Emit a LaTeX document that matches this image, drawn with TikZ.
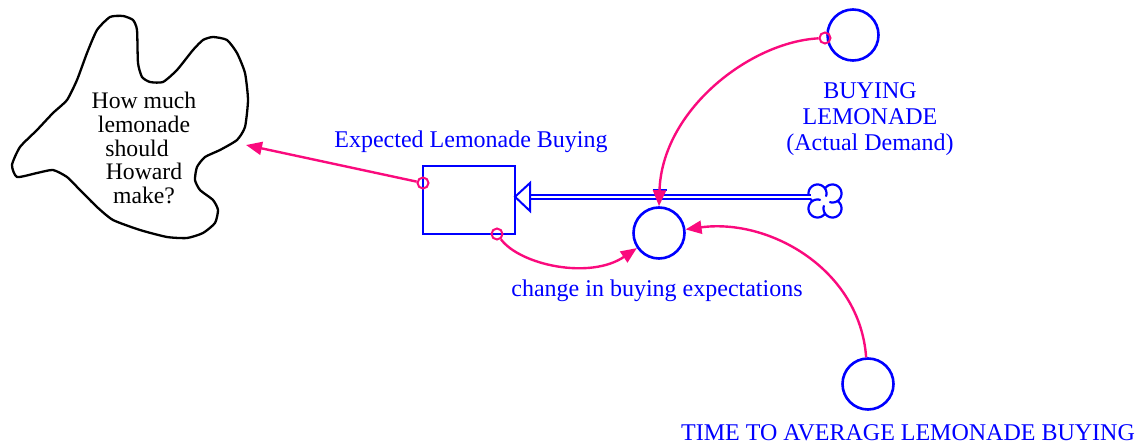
\documentclass[tikz,border=0pt]{standalone}
\usepackage{fontspec}
\setmainfont{Liberation Serif}
\usetikzlibrary{arrows.meta,calc}
\definecolor{vblue}{RGB}{0,0,255}
\definecolor{vpink}{RGB}{250,10,125}
\begin{document}
\begin{tikzpicture}[x=1pt,y=-1pt,
  lbl/.style={font=\fontsize{24}{26}\selectfont, text=vblue, inner sep=0pt},
  aux/.style={circle, draw=vblue, line width=2.6pt, minimum size=51pt, inner sep=0pt},
  lvl/.style={rectangle, draw=vblue, line width=2.6pt, minimum width=92pt, minimum height=68pt, inner sep=0pt},
  link/.style={draw=vpink, line width=2.4pt, -{Triangle[length=16pt,width=13pt]}},
  tail/.style={circle, draw=vpink, line width=2pt, minimum size=11pt, inner sep=0pt},
  pipe/.style={draw=vblue, line width=1.6pt, double=white, double distance=2.4pt},
  lobe/.style={draw=vblue, line width=2.2pt, line cap=round},
  think/.style={draw=black, line width=2.3pt, line join=round},
]
\useasboundingbox (0,0) rectangle (1143,446);

% thought cloud
\draw[think] plot[smooth cycle, tension=0.35] coordinates {
(110,17) (123,16) (133,20) (137,30) (138,63) (142,77) (150,82) (163,82) (177,70) (193,50) (203,40) (213,37) (227,40) (237,53) (245,73) (248,100) (245,127) (237,140) (220,150) (205,157) (197,167) (195,180) (200,190) (213,200) (218,210) (215,223) (203,233) (187,238) (167,237) (140,230) (113,220) (97,207) (80,190) (67,177) (53,170) (37,173) (17,177) (12,165) (20,147) (37,130) (53,113) (67,100) (77,80) (87,53) (97,30)};
\node[font=\fontsize{23.7}{23.7}\selectfont, align=center, inner sep=0pt] (question) at (144,148) {How much\\lemonade\\should\rule{14pt}{0pt}\\Howard\\make?};
\coordinate (thinktip) at (246,145);

% stock
\node[lvl] (stock) at (469,200) {};
\node[lbl] (stocklbl) at (471,142) {Expected Lemonade Buying};

% source cloud
\node[minimum size=34pt, inner sep=0pt] (src) at (825,201) {};
\draw[lobe] plot[domain=123.7:376, samples=30] ({817.5+9*cos(\x)},{193.5+9*sin(\x)});
\draw[lobe] plot[domain=213.7:466, samples=30] ({832.5+9*cos(\x)},{193.5+9*sin(\x)});
\draw[lobe] plot[domain=303.7:556, samples=30] ({832.5+9*cos(\x)},{208.5+9*sin(\x)});
\draw[lobe] plot[domain=33.7:286, samples=30] ({817.5+9*cos(\x)},{208.5+9*sin(\x)});

% flow
\coordinate (fin) at (811,196.8);
\coordinate (fbase) at (530,196.8);
\coordinate (ftip) at (515,196.8);
\draw[pipe] (fin) -- (fbase);
\draw[draw=vblue, fill=white, line width=2pt, line join=miter] (ftip) -- (530,183) -- (530,211) -- cycle;
\draw[vblue, line width=2.2pt] (653,190) -- (667,190) (660,190) -- (660,194);

% auxiliaries
\node[aux] (rate) at (659,233) {};
\node[lbl] (ratelbl) at (657,291) {change in buying expectations};
\node[aux] (buy) at (853,35) {};
\node[lbl, align=center] (buylbl) at (870,119) {BUYING\\LEMONADE\\(Actual Demand)};
\node[aux] (time) at (868,384) {};
\node[lbl] (timelbl) at (908,433) {TIME TO AVERAGE LEMONADE BUYING};

% tails
\node[tail] (t1) at (423,183) {};
\node[tail] (t2) at (825,38) {};
\node[tail] (t3) at (497,234) {};

% connectors
\draw[link] (t1) -- (thinktip);
\draw[link] (t2) .. controls (750,42) and (662,110) .. (rate.north);
\draw[link] (t3) .. controls (520,265) and (590,280) .. (rate);
\draw[link] (time) .. controls (860,270) and (770,218) .. (rate);
\end{tikzpicture}
\end{document}
